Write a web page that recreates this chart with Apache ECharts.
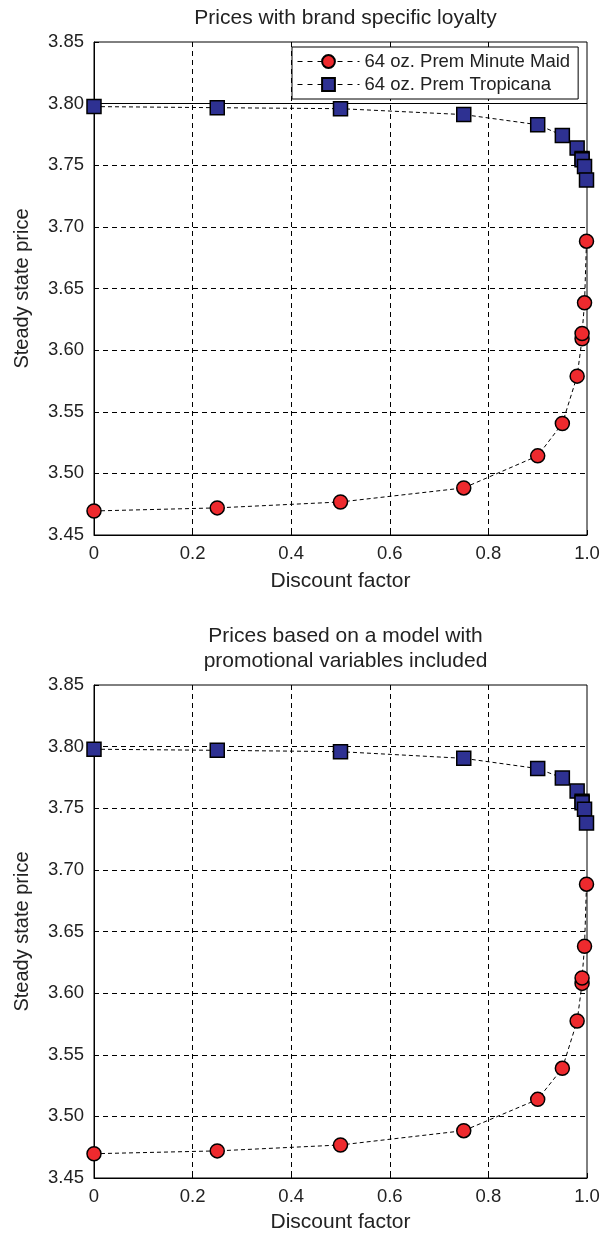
<!DOCTYPE html>
<html>
<head>
<meta charset="utf-8">
<script src="https://cdn.jsdelivr.net/npm/echarts@6/dist/echarts.min.js"></script>
<style>html,body{margin:0;padding:0;background:#fff}#c{width:606px;height:1235px}</style>
</head>
<body>
<div id="c"></div>
<script>
// ---- data ----
const discount = [0, 0.25, 0.5, 0.75, 0.9, 0.95, 0.98, 0.99, 0.99, 0.995, 0.999];
const minuteMaidTop = [3.4695, 3.472, 3.4768, 3.4882, 3.5142, 3.5405, 3.5789, 3.6092, 3.6135, 3.6384, 3.6884];
const tropicanaTop  = [3.7976, 3.7967, 3.7959, 3.7911, 3.7829, 3.7742, 3.7639, 3.7555, 3.7545, 3.7489, 3.738];
const minuteMaidBot = [3.4697, 3.472, 3.4768, 3.4884, 3.5138, 3.539, 3.5774, 3.6079, 3.6123, 3.638, 3.6884];
const tropicanaBot  = [3.7979, 3.797, 3.7959, 3.7905, 3.7822, 3.7746, 3.7639, 3.7556, 3.7545, 3.7491, 3.738];
const seriesNames = ['64 oz. Prem Minute Maid', '64 oz. Prem Tropicana'];
const titles = ['Prices with brand specific loyalty', 'Prices based on a model with\npromotional variables included'];
const xName = 'Discount factor';
const yName = 'Steady state price';
const xTicks = {min: 0, max: 1, step: 0.2};
const yTicks = {min: 3.45, max: 3.85, step: 0.05};
const refLineTop = 3.80;

const FONT = 'Liberation Sans, Arial, Helvetica, sans-serif';
const TXT = '#222';
const RED = '#ee2a2e';
const BLUE = '#2e3192';

const pairs = (ys) => discount.map((x, i) => [x, ys[i]]);

function xAxis(gi, gap) {
  return {
    type: 'value', gridIndex: gi, min: xTicks.min, max: xTicks.max, interval: xTicks.step,
    name: xName, nameLocation: 'middle', nameGap: gap,
    nameTextStyle: {fontFamily: FONT, fontSize: 21, color: TXT},
    axisLine: {show: true, lineStyle: {color: '#000', width: 1}},
    axisTick: {show: true, inside: true, length: 5, lineStyle: {color: '#000'}},
    axisLabel: {fontFamily: FONT, fontSize: 18.5, color: TXT, margin: 9,
      formatter: v => (Math.abs(v) < 1e-9 ? '0' : v.toFixed(1))},
    splitLine: {show: true, showMinLine: false, showMaxLine: false,
      lineStyle: {color: '#000', width: 1, type: [5, 4]}}
  };
}
function yAxis(gi) {
  return {
    type: 'value', gridIndex: gi, min: yTicks.min, max: yTicks.max, interval: yTicks.step,
    name: yName, nameLocation: 'middle', nameGap: 62,
    nameTextStyle: {fontFamily: FONT, fontSize: 20, color: TXT},
    axisLine: {show: true, lineStyle: {color: '#000', width: 1}},
    axisTick: {show: true, inside: true, length: 5, lineStyle: {color: '#000'}},
    axisLabel: {fontFamily: FONT, fontSize: 18.5, color: TXT, margin: 10,
      formatter: v => v.toFixed(2)},
    splitLine: {show: true, showMinLine: false, showMaxLine: false,
      lineStyle: {color: '#000', width: 1, type: [5, 4]}}
  };
}
function lineSeries(name, gi, ys, symbol, color, extra) {
  return Object.assign({
    type: 'line', name: name, xAxisIndex: gi, yAxisIndex: gi,
    data: pairs(ys),
    symbol: symbol, symbolSize: 14, showAllSymbol: true,
    lineStyle: {color: '#000', width: 1, type: [4, 3]},
    itemStyle: {color: color, borderColor: '#000', borderWidth: 1.5},
    emphasis: {disabled: true},
    z: 3
  }, extra || {});
}

const chart = echarts.init(document.getElementById('c'), null, {renderer: 'canvas'});
chart.setOption({
  animation: false,
  backgroundColor: '#fff',
  title: [
    {text: titles[0], left: 340.5, top: 3, textAlign: 'center',
      textStyle: {fontFamily: FONT, fontSize: 21, fontWeight: 'normal', color: TXT}},
    {text: titles[1], left: 340.5, top: 619, textAlign: 'center',
      textStyle: {fontFamily: FONT, fontSize: 21, fontWeight: 'normal', color: TXT, lineHeight: 25}}
  ],
  grid: [
    {left: 94, width: 493, top: 42, height: 493, show: true, borderColor: '#000', borderWidth: 1, backgroundColor: 'transparent'},
    {left: 94, width: 493, top: 685, height: 493, show: true, borderColor: '#000', borderWidth: 1, backgroundColor: 'transparent'}
  ],
  legend: {
    data: seriesNames,
    orient: 'vertical', left: 292, top: 47,
    padding: [5, 8, 5, 5], itemGap: 4,
    itemWidth: 62, itemHeight: 16,
    lineStyle: {type: [5, 5], color: '#000', width: 1},
    backgroundColor: '#fff', borderColor: '#000', borderWidth: 1, borderRadius: 0,
    textStyle: {fontFamily: FONT, fontSize: 18.5, color: TXT},
    selectedMode: false, z: 10
  },
  xAxis: [xAxis(0, 36), xAxis(1, 34)],
  yAxis: [yAxis(0), yAxis(1)],
  series: [
    lineSeries(seriesNames[0], 0, minuteMaidTop, 'circle', RED),
    lineSeries(seriesNames[1], 0, tropicanaTop, 'rect', BLUE, {
      markLine: {silent: true, symbol: ['none', 'none'], label: {show: false},
        lineStyle: {color: '#000', width: 1, type: 'solid'},
        data: [{yAxis: refLineTop}], z: 2}
    }),
    lineSeries(seriesNames[0], 1, minuteMaidBot, 'circle', RED),
    lineSeries(seriesNames[1], 1, tropicanaBot, 'rect', BLUE)
  ]
});
</script>
</body>
</html>
